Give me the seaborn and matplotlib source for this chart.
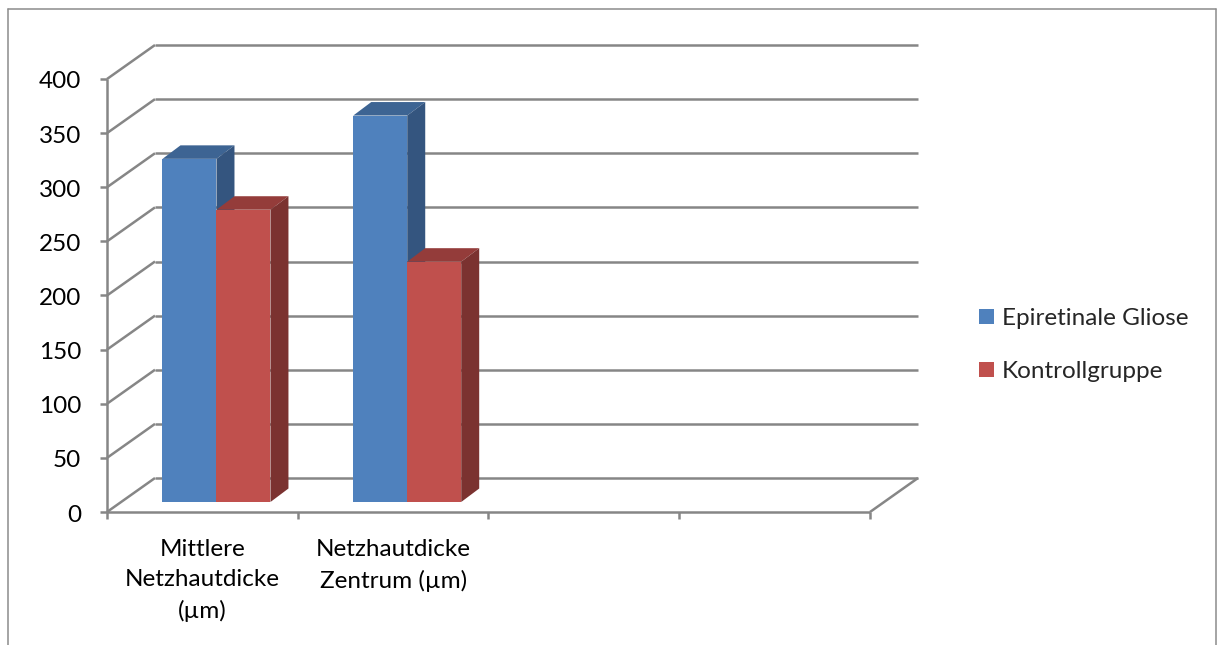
import numpy as np
import pandas as pd
import matplotlib
matplotlib.use("Agg")
import matplotlib.pyplot as plt
from matplotlib.patches import Polygon
from matplotlib.lines import Line2D
import seaborn as sns

# Chart data
categories = ["Mittlere\nNetzhautdicke\n(µm)", "Netzhautdicke\nZentrum (µm)"]
groups = ["Epiretinale Gliose", "Kontrollgruppe"]
gliose = [317, 357]
kontrolle = [270, 222]
y_ticks = [0, 50, 100, 150, 200, 250, 300, 350, 400]
n_slots = 4  # the category axis has room for four groups

front_colors = {"Epiretinale Gliose": "#4f81bd", "Kontrollgruppe": "#c0504d"}
top_colors = {"#4f81bd": "#3d6493", "#c0504d": "#943c3a"}
side_colors = {"#4f81bd": "#34557f", "#c0504d": "#7b3230"}

df = pd.DataFrame({
    "Kategorie": categories * 2,
    "Gruppe": [groups[0]] * len(categories) + [groups[1]] * len(categories),
    "Wert": gliose + kontrolle,
})

sns.set_theme(style="white")
plt.rcParams["font.family"] = ["Lato", "DejaVu Sans"]
FS = 17.5

W, H = 1218, 645
fig = plt.figure(figsize=(W / 100, H / 100), dpi=100)
fig.patch.set_facecolor("white")
ax = fig.add_axes([121.1 / W, 143 / H, 763 / W, 433 / H])

sns.barplot(data=df, x="Kategorie", y="Wert", hue="Gruppe", palette=front_colors,
            width=0.566, gap=0, linewidth=0, saturation=1, errorbar=None, ax=ax)
handles, labels = ax.get_legend_handles_labels()
if ax.get_legend() is not None:
    ax.get_legend().remove()

ax.set_xlim(-0.5, n_slots - 0.5)
ax.set_ylim(y_ticks[0], y_ticks[-1])
ax.axis("off")

# pixel size of one data unit, used for the oblique depth offsets
o = ax.transData.transform((0, 0))
sx = ax.transData.transform((1, 0))[0] - o[0]
sy = ax.transData.transform((0, 1))[1] - o[1]


def shift(x, y, off):
    return x + off[0] / sx, y + off[1] / sy


FRONT = (-14.1, -10.0)   # front edge of the floor
BACK = (33.9, 24.0)      # back wall
DEPTH = (18.0, 13.5)     # depth of each bar

grid_kw = dict(color="#868686", lw=1.8, solid_capstyle="butt", clip_on=False, zorder=1)
x0, x1 = -0.5, n_slots - 0.5

# back wall gridlines and side wall diagonals
for v in y_ticks:
    a = shift(x0, v, BACK)
    b = shift(x1, v, BACK)
    ax.add_line(Line2D([a[0], b[0]], [a[1], b[1]], **grid_kw))
    f = shift(x0, v, FRONT)
    ax.add_line(Line2D([f[0], a[0]], [f[1], a[1]], **grid_kw))
    # y tick mark
    ax.add_line(Line2D([f[0] - 7 / sx, f[0]], [f[1], f[1]], **grid_kw))
    ax.annotate(str(v), xy=(x0, v), xycoords="data",
                xytext=(FRONT[0] - 26, FRONT[1] - 3), textcoords="offset pixels",
                ha="right", va="center", fontsize=FS, color="black")

# front axis line, front floor edge and right floor edge
fa = shift(x0, y_ticks[0], FRONT)
fb = shift(x0, y_ticks[-1], FRONT)
ax.add_line(Line2D([fa[0], fb[0]], [fa[1], fb[1]], **grid_kw))
fr = shift(x1, 0, FRONT)
ax.add_line(Line2D([fa[0], fr[0]], [fa[1], fr[1]], **grid_kw))
br = shift(x1, 0, BACK)
ax.add_line(Line2D([fr[0], br[0]], [fr[1], br[1]], **grid_kw))

# category tick marks
for k in range(n_slots + 1):
    t = shift(x0 + k, 0, FRONT)
    ax.add_line(Line2D([t[0], t[0]], [t[1], t[1] - 7 / sy], **grid_kw))

# category labels
for i, cat in enumerate(categories):
    ax.annotate(cat, xy=(i, 0), xycoords="data",
                xytext=(FRONT[0], FRONT[1] - 27), textcoords="offset pixels",
                ha="center", va="top", fontsize=FS, linespacing=1.55,
                multialignment="center", color="black")

# 3D faces on top of seaborn's bars, drawn left to right
bars = sorted([p for p in ax.patches if p.get_height() > 0], key=lambda p: p.get_x())
for i, p in enumerate(bars):
    z = 3 + i * 0.1
    p.set_zorder(z)
    fc = matplotlib.colors.to_hex(p.get_facecolor()).lower()
    xl, w, h = p.get_x(), p.get_width(), p.get_height()
    xr = xl + w
    top = [(xl, h), (xr, h), shift(xr, h, DEPTH), shift(xl, h, DEPTH)]
    side = [(xr, 0), (xr, h), shift(xr, h, DEPTH), shift(xr, 0, DEPTH)]
    ax.add_patch(Polygon(top, closed=True, facecolor=top_colors.get(fc, fc),
                         edgecolor="none", clip_on=False, zorder=z + 0.01))
    ax.add_patch(Polygon(side, closed=True, facecolor=side_colors.get(fc, fc),
                         edgecolor="none", clip_on=False, zorder=z + 0.02))

# legend
fig.legend(handles, labels, loc="center left", bbox_to_anchor=(979 / W, 1 - 345 / H),
           frameon=False, fontsize=FS, handlelength=0.62, handleheight=0.62,
           handletextpad=0.33, labelspacing=1.32, borderaxespad=0, borderpad=0)

# chart area border
bc = "#8C8C8C"
fig.add_artist(Line2D([8 / W, 1216 / W], [1 - 9 / H, 1 - 9 / H], color=bc, lw=1.1, transform=fig.transFigure))
fig.add_artist(Line2D([8 / W, 8 / W], [0, 1 - 9 / H], color=bc, lw=1.1, transform=fig.transFigure))
fig.add_artist(Line2D([1216 / W, 1216 / W], [0, 1 - 9 / H], color=bc, lw=1.1, transform=fig.transFigure))

fig.savefig("out.png", dpi=100)
